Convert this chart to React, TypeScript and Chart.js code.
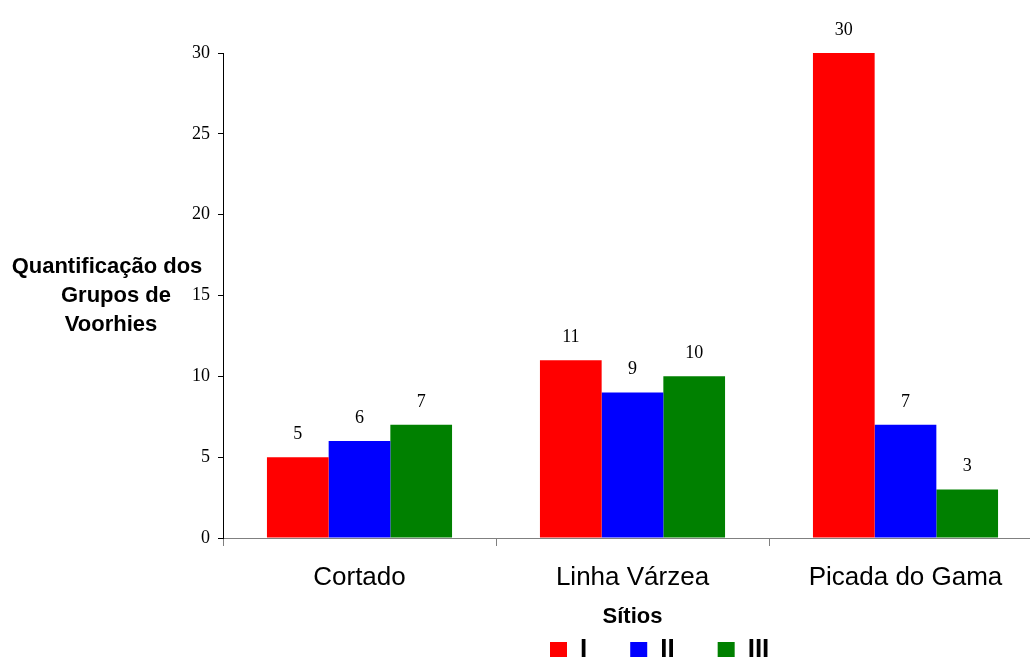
import React, { useEffect, useRef } from "react";
import { Chart, registerables } from "chart.js";

Chart.register(...registerables);

const categories = ["Cortado", "Linha Várzea", "Picada do Gama"];
const seriesNames = ["I", "II", "III"];
const seriesI = [5, 11, 30];
const seriesII = [6, 9, 7];
const seriesIII = [7, 10, 3];
const yMin = 0;
const yMax = 30;
const yStep = 5;
const yTitleLines = ["Quantificação dos", "Grupos de", "Voorhies"];
const xTitle = "Sítios";
const seriesColors = ["#FF0000", "#0000FF", "#008000"];

const CANVAS_W = 1042;
const CANVAS_H = 709;

const yTitlePlugin = {
  id: "yTitlePlugin",
  afterDraw(chart: any) {
    const { ctx, chartArea } = chart;
    ctx.save();
    ctx.font = "bold 22px 'Liberation Sans', Arial, sans-serif";
    ctx.fillStyle = "#000";
    ctx.textAlign = "center";
    ctx.textBaseline = "middle";
    const mid = (chartArea.top + chartArea.bottom) / 2;
    const xs = [107, 116, 111];
    yTitleLines.forEach((line, i) => {
      ctx.fillText(line, xs[i], mid + (i - 1) * 29);
    });
    ctx.restore();
  },
};

const dataLabelPlugin = {
  id: "dataLabelPlugin",
  afterDatasetsDraw(chart: any) {
    const { ctx } = chart;
    ctx.save();
    ctx.font = "18px 'Liberation Serif', 'Times New Roman', serif";
    ctx.fillStyle = "#000";
    ctx.textAlign = "center";
    ctx.textBaseline = "middle";
    chart.data.datasets.forEach((ds: any, di: number) => {
      const meta = chart.getDatasetMeta(di);
      meta.data.forEach((bar: any, i: number) => {
        const y = Math.max(bar.y - 23, 24);
        ctx.fillText(String(ds.data[i]), bar.x, y);
      });
    });
    ctx.restore();
  },
};

const legendPlacePlugin = {
  id: "legendPlacePlugin",
  afterLayout(chart: any) {
    const lg = chart.legend;
    if (!lg) return;
    const pad = lg.options.labels.padding;
    const dx = 550 - (lg.left + pad);
    const dy = 593.5 - lg.top;
    lg.left += dx;
    lg.right += dx;
    lg.top += dy;
    lg.bottom += dy;
  },
};

export default function App() {
  const canvasRef = useRef<HTMLCanvasElement | null>(null);

  useEffect(() => {
    if (!canvasRef.current) return;
    const series = [seriesI, seriesII, seriesIII];
    const chart = new Chart(canvasRef.current, {
      type: "bar",
      data: {
        labels: categories,
        datasets: series.map((d, i) => ({
          label: seriesNames[i],
          data: d,
          backgroundColor: seriesColors[i],
          borderWidth: 0,
          barPercentage: 1,
          categoryPercentage: 0.678,
        })),
      },
      options: {
        responsive: false,
        animation: false,
        layout: { padding: { top: 53, left: 0, right: 0, bottom: 0 } },
        plugins: {
          legend: {
            display: true,
            position: "bottom",
            align: "start",
            labels: {
              boxWidth: 17,
              boxHeight: 15,
              padding: 43,
              color: "#000",
              font: { family: "'Liberation Sans', Arial, sans-serif", size: 26, weight: "bold" },
            },
          },
          tooltip: { enabled: false },
          title: { display: false },
        },
        scales: {
          x: {
            type: "category",
            offset: true,
            grid: {
              display: true,
              offset: true,
              drawOnChartArea: false,
              drawTicks: true,
              tickLength: 8,
              color: "#808080",
            },
            border: { display: true, color: "#808080", width: 1 },
            ticks: {
              color: "#000",
              padding: 16,
              maxRotation: 0,
              autoSkip: false,
              font: { family: "'Liberation Sans', Arial, sans-serif", size: 26 },
            },
            title: {
              display: true,
              text: xTitle,
              color: "#000",
              padding: { top: 0, bottom: 0 },
              font: { family: "'Liberation Sans', Arial, sans-serif", size: 22, weight: "bold" },
            },
            afterFit: (scale: any) => {
              scale.height = 92;
            },
          },
          y: {
            min: yMin,
            max: yMax,
            grid: {
              display: true,
              drawOnChartArea: false,
              drawTicks: true,
              tickLength: 5,
              color: "#000",
            },
            border: { display: true, color: "#000", width: 1 },
            ticks: {
              stepSize: yStep,
              color: "#000",
              padding: 8,
              font: { family: "'Liberation Serif', 'Times New Roman', serif", size: 18 },
            },
            afterFit: (scale: any) => {
              scale.width = 223;
            },
          },
        },
      } as any,
      plugins: [yTitlePlugin, dataLabelPlugin, legendPlacePlugin],
    });
    return () => chart.destroy();
  }, []);

  return (
    <div
      style={{
        position: "fixed",
        left: 0,
        top: 0,
        width: 1030,
        height: 657,
        overflow: "hidden",
        background: "#fff",
      }}
    >
      <canvas
        ref={canvasRef}
        width={CANVAS_W}
        height={CANVAS_H}
        style={{ display: "block", width: CANVAS_W, height: CANVAS_H }}
      />
    </div>
  );
}
